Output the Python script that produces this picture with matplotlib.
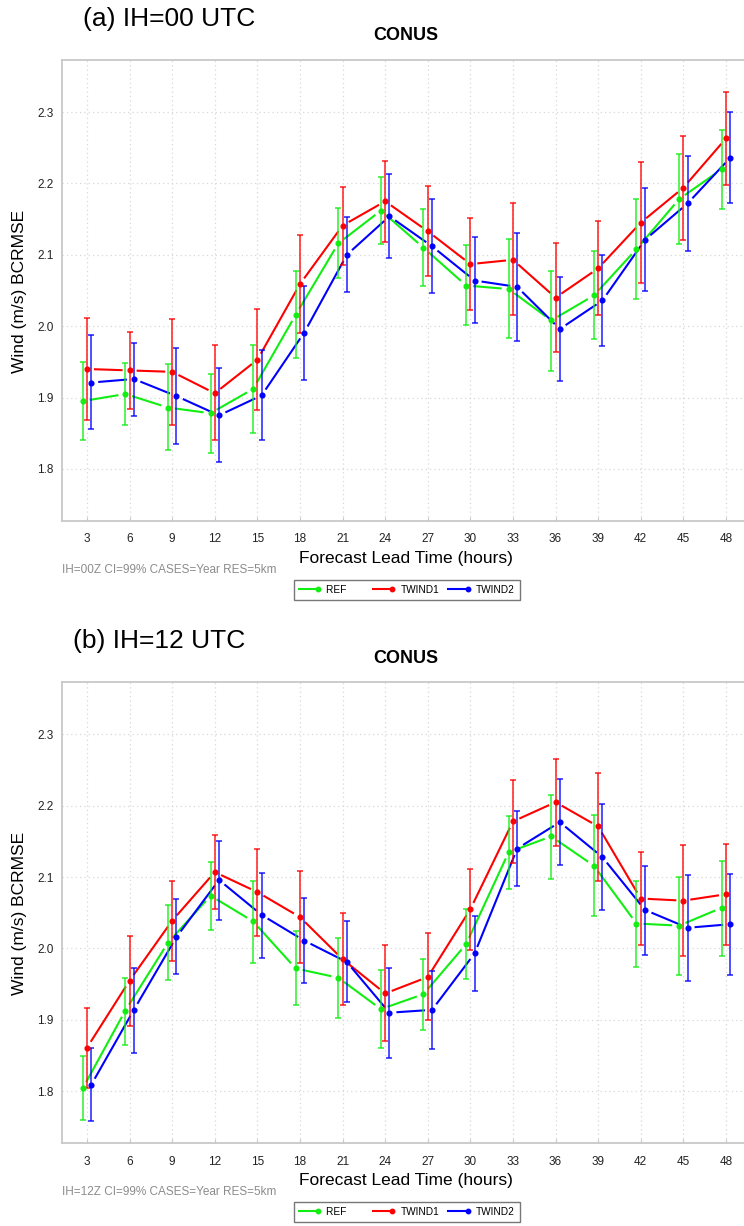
import numpy as np
import matplotlib
matplotlib.use("Agg")
import matplotlib.pyplot as plt
from matplotlib.collections import LineCollection
from matplotlib.lines import Line2D
from matplotlib.legend_handler import HandlerBase

plt.rcParams['font.family'] = ['Liberation Sans', 'DejaVu Sans']

# Data
hours = [3, 6, 9, 12, 15, 18, 21, 24, 27, 30, 33, 36, 39, 42, 45, 48]
series_names = ["REF", "TWIND1", "TWIND2"]

# (a) IH=00 UTC
a_ref = [1.895, 1.905, 1.886, 1.878, 1.912, 2.016, 2.116, 2.162, 2.110, 2.057, 2.052, 2.008, 2.043, 2.108, 2.178, 2.220]
a_ref_lo = [1.841, 1.861, 1.826, 1.822, 1.851, 1.955, 2.067, 2.115, 2.057, 2.002, 1.984, 1.937, 1.982, 2.038, 2.115, 2.164]
a_ref_hi = [1.950, 1.948, 1.947, 1.933, 1.973, 2.078, 2.166, 2.209, 2.164, 2.114, 2.122, 2.078, 2.106, 2.178, 2.241, 2.275]
a_tw1 = [1.940, 1.938, 1.936, 1.906, 1.953, 2.059, 2.141, 2.175, 2.133, 2.087, 2.093, 2.040, 2.081, 2.145, 2.194, 2.263]
a_tw1_lo = [1.868, 1.884, 1.862, 1.840, 1.883, 1.990, 2.086, 2.118, 2.071, 2.023, 2.016, 1.964, 2.015, 2.061, 2.121, 2.198]
a_tw1_hi = [2.011, 1.992, 2.010, 1.973, 2.024, 2.128, 2.195, 2.232, 2.196, 2.151, 2.172, 2.116, 2.148, 2.230, 2.267, 2.328]
a_tw2 = [1.921, 1.926, 1.902, 1.875, 1.903, 1.991, 2.100, 2.154, 2.112, 2.064, 2.055, 1.996, 2.036, 2.121, 2.172, 2.236]
a_tw2_lo = [1.856, 1.874, 1.835, 1.809, 1.841, 1.925, 2.048, 2.095, 2.046, 2.004, 1.979, 1.923, 1.972, 2.050, 2.105, 2.173]
a_tw2_hi = [1.987, 1.977, 1.970, 1.941, 1.966, 2.056, 2.153, 2.213, 2.178, 2.125, 2.131, 2.069, 2.100, 2.193, 2.239, 2.300]

# (b) IH=12 UTC
b_ref = [1.804, 1.913, 2.008, 2.074, 2.038, 1.972, 1.959, 1.915, 1.936, 2.006, 2.135, 2.157, 2.116, 2.035, 2.032, 2.057]
b_ref_lo = [1.759, 1.865, 1.956, 2.026, 1.980, 1.921, 1.903, 1.861, 1.886, 1.957, 2.084, 2.097, 2.046, 1.974, 1.963, 1.990]
b_ref_hi = [1.850, 1.959, 2.061, 2.121, 2.095, 2.025, 2.014, 1.970, 1.985, 2.055, 2.185, 2.215, 2.187, 2.095, 2.100, 2.122]
b_tw1 = [1.861, 1.955, 2.039, 2.107, 2.079, 2.044, 1.985, 1.937, 1.960, 2.055, 2.178, 2.205, 2.171, 2.070, 2.067, 2.076]
b_tw1_lo = [1.804, 1.892, 1.982, 2.056, 2.018, 1.979, 1.921, 1.871, 1.900, 1.998, 2.120, 2.144, 2.095, 2.005, 1.989, 2.005]
b_tw1_hi = [1.917, 2.018, 2.095, 2.159, 2.140, 2.108, 2.050, 2.005, 2.021, 2.111, 2.236, 2.265, 2.246, 2.135, 2.145, 2.146]
b_tw2 = [1.809, 1.914, 2.016, 2.096, 2.047, 2.011, 1.981, 1.910, 1.914, 1.993, 2.140, 2.177, 2.128, 2.054, 2.029, 2.034]
b_tw2_lo = [1.758, 1.854, 1.964, 2.040, 1.986, 1.951, 1.925, 1.847, 1.859, 1.940, 2.088, 2.117, 2.054, 1.991, 1.955, 1.963]
b_tw2_hi = [1.861, 1.972, 2.070, 2.151, 2.106, 2.071, 2.038, 1.973, 1.969, 2.045, 2.192, 2.237, 2.202, 2.116, 2.103, 2.105]

colors = ['#11ee11', '#ff0000', '#0000ff']
offsets = [-0.3, 0.0, 0.3]

W, H = 744, 1226
fig = plt.figure(figsize=(W / 100, H / 100), dpi=100)


def gapped_line(ax, x, y, color, gap=7.0):
    # lines stop short of each point, like R's type="b"
    pts = ax.transData.transform(np.column_stack([x, y]))
    inv = ax.transData.inverted()
    segs = []
    for p, q in zip(pts[:-1], pts[1:]):
        d = q - p
        u = d / np.hypot(*d)
        segs.append(inv.transform(np.array([p + u * gap, q - u * gap])))
    ax.add_collection(LineCollection(segs, colors=color, linewidths=1.5, zorder=2),
                      autolim=False)


class EndMarkerHandler(HandlerBase):
    # legend key: line with a dot at its right end
    def create_artists(self, legend, orig_handle, xdescent, ydescent, width, height,
                       fontsize, trans):
        y = height / 2 - ydescent
        c = orig_handle.get_color()
        line = Line2D([-xdescent, -xdescent + width], [y, y], color=c, lw=1.5)
        dot = Line2D([-xdescent + width], [y], color=c, marker='o', ms=3.2, ls='none')
        line.set_transform(trans)
        dot.set_transform(trans)
        return [line, dot]


def panel(top_px, tag, tag_x, foot, data):
    bottom_px = top_px + 461
    ax = fig.add_axes([62 / W, 1 - bottom_px / H, (760 - 62) / W, 461 / H])
    ax.set_xlim(1.24, 50.4)
    ax.set_ylim(1.727, 2.373)
    ax.set_xticks(hours)
    ax.set_yticks([1.8, 1.9, 2.0, 2.1, 2.2, 2.3])
    ax.set_yticklabels(['1.8', '1.9', '2.0', '2.1', '2.2', '2.3'])
    ax.grid(True, color='#d8d8d8', linestyle=(0, (1, 2.5)), linewidth=0.9)
    ax.set_axisbelow(True)
    for s in ['left', 'top', 'bottom']:
        ax.spines[s].set_color('#c8c8c8')
        ax.spines[s].set_linewidth(1.3)
    ax.spines['right'].set_visible(False)
    ax.tick_params(axis='x', direction='in', length=3, color='#c8c8c8', pad=9,
                   labelsize=8.5, labelcolor='#222222')
    ax.tick_params(axis='y', length=0, pad=6, labelsize=8.5, labelcolor='#222222')

    for (m, lo, hi), c, off in zip(data, colors, offsets):
        x = np.array(hours) + off
        m = np.array(m)
        gapped_line(ax, x, m, c)
        ax.errorbar(x, m, yerr=[m - np.array(lo), np.array(hi) - m], fmt='none',
                    ecolor=c, elinewidth=1.3, capsize=2.2, capthick=1.3, alpha=0.75, zorder=3)
        ax.plot(x, m, 'o', color=c, ms=3.4, zorder=4)

    off = top_px - 60
    fig.text(tag_x / W, 1 - (19 + off) / H, tag, fontsize=19, ha='left', va='center')
    fig.text(406 / W, 1 - (36 + off) / H, 'CONUS', fontsize=13, fontweight='bold',
             ha='center', va='center')
    fig.text(20 / W, 1 - (291 + off) / H, 'Wind (m/s) BCRMSE', fontsize=12.5,
             rotation=90, ha='center', va='center')
    fig.text(406 / W, 1 - (558 + off) / H, 'Forecast Lead Time (hours)', fontsize=12.5,
             ha='center', va='center')
    fig.text(62 / W, 1 - (570 + off) / H, foot, fontsize=8.5, color='#8c8c8c',
             ha='left', va='center')

    handles = [Line2D([], [], color=c) for c in colors]
    labels = [series_names[0] + '      ', series_names[1], series_names[2]]
    fig.legend(handles, labels, loc='center', bbox_to_anchor=(406.7 / W, 1 - (589.6 + off) / H),
               ncol=3, fontsize=7.3, handlelength=1.9, handletextpad=0.8,
               columnspacing=0.9, frameon=True, fancybox=False, edgecolor='#555555',
               borderpad=0.5, borderaxespad=0,
               handler_map={Line2D: EndMarkerHandler()})
    return ax


panel(60, '(a) IH=00 UTC', 82.7, 'IH=00Z CI=99% CASES=Year RES=5km',
      [(a_ref, a_ref_lo, a_ref_hi), (a_tw1, a_tw1_lo, a_tw1_hi), (a_tw2, a_tw2_lo, a_tw2_hi)])
panel(682.3, '(b) IH=12 UTC', 72.7, 'IH=12Z CI=99% CASES=Year RES=5km',
      [(b_ref, b_ref_lo, b_ref_hi), (b_tw1, b_tw1_lo, b_tw1_hi), (b_tw2, b_tw2_lo, b_tw2_hi)])

fig.savefig('out.png', dpi=100)
